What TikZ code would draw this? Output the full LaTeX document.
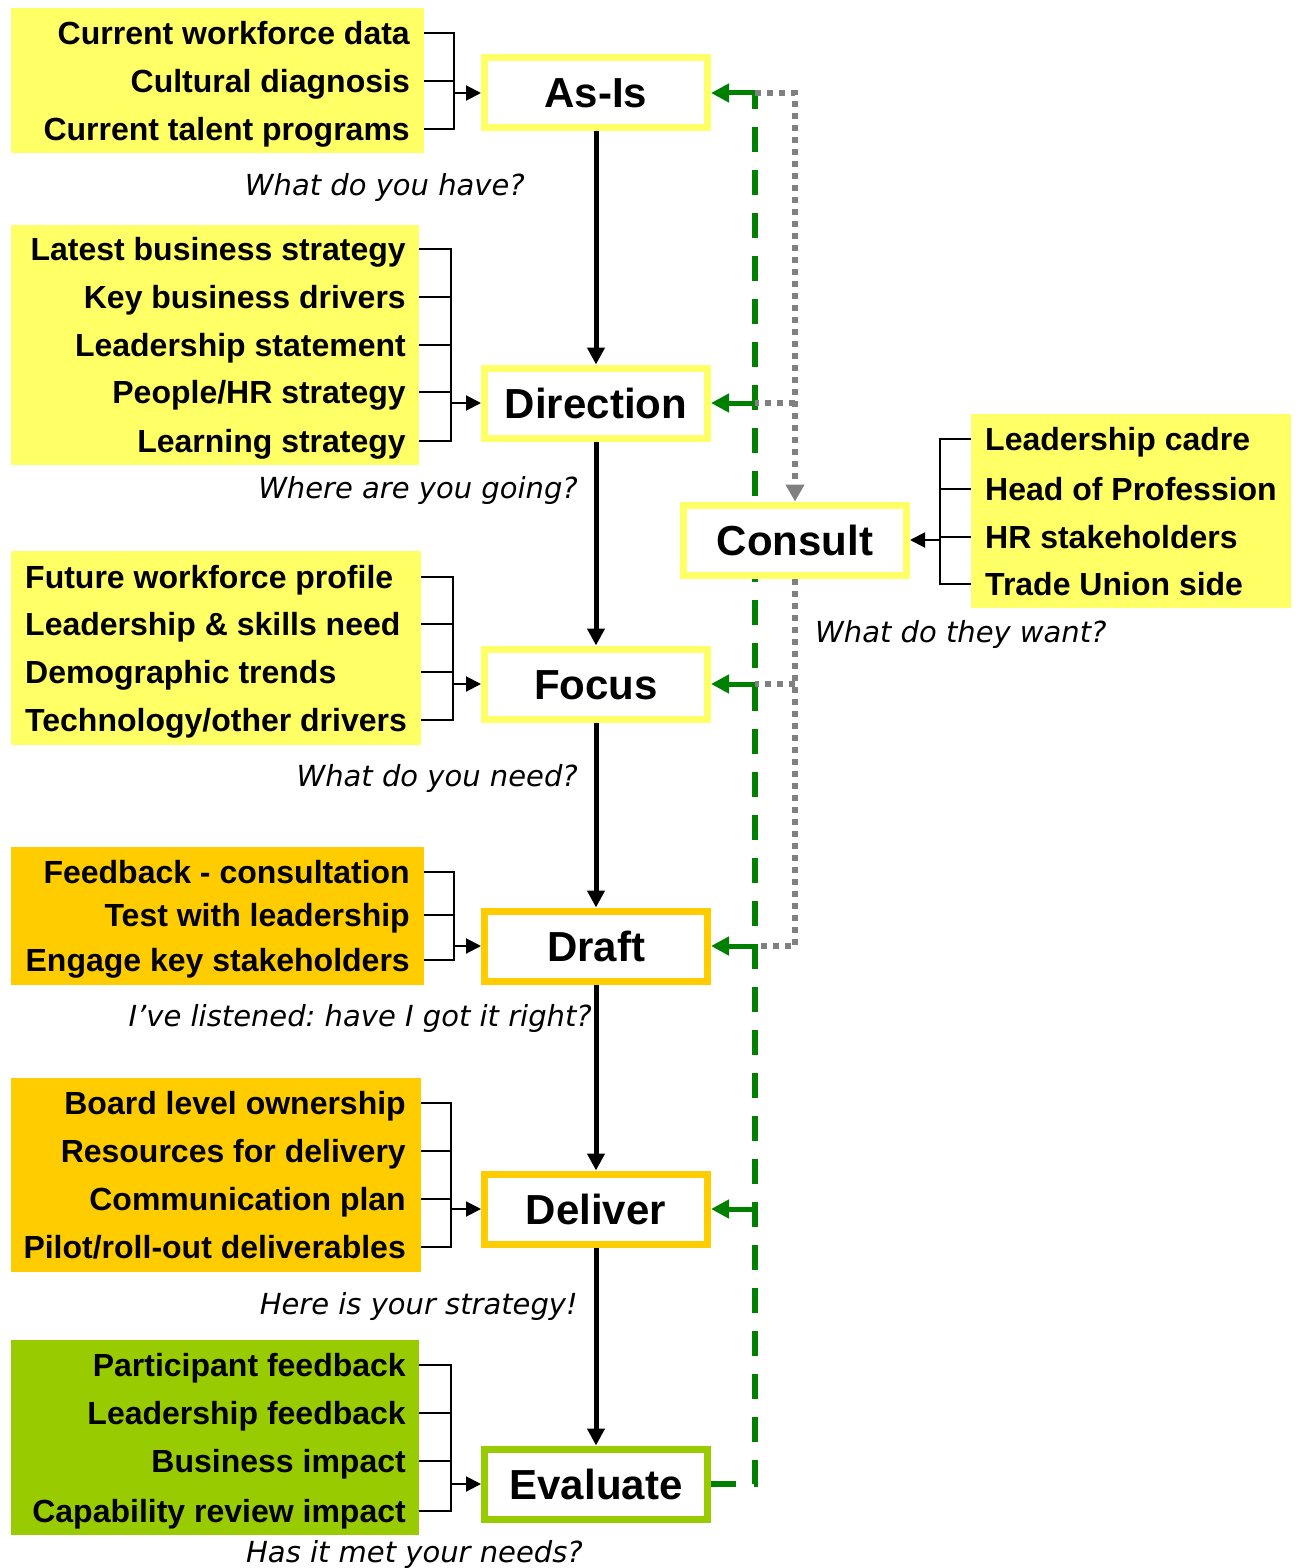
\documentclass[tikz,border=0pt]{standalone}
\usepackage{fontspec}
\setmainfont{Liberation Sans}
\newfontfamily\notefont{DejaVu Sans}
\usetikzlibrary{arrows.meta, positioning, backgrounds}

\definecolor{paleyellow}{HTML}{FFFF66}
\definecolor{gold}{HTML}{FFCC00}
\definecolor{lime}{HTML}{99CC00}
\definecolor{dkgreen}{HTML}{008000}
\definecolor{dotgrey}{HTML}{808080}

\frenchspacing
\begin{document}
\begin{tikzpicture}[x=1pt, y=-1pt]
    \tikzstyle{stage} = [rectangle, draw=paleyellow, fill=white, line width=7pt, minimum width=223pt, minimum height=70pt, inner sep=0pt, font=\fontsize{42}{50}\selectfont\bfseries, text height=30pt, text depth=0pt]
    \tikzstyle{panel} = [rectangle, anchor=north west, inner sep=0pt]
    \tikzstyle{item} = [inner sep=0pt, font=\fontsize{32}{38}\selectfont\bfseries, text height=23pt, text depth=0pt]
    \tikzstyle{question} = [inner sep=0pt, font=\notefont\fontsize{29}{35}\selectfont\itshape]
    \tikzstyle{leg} = [line width=2pt]
    \tikzstyle{feed} = [line width=2pt, -{Triangle[length=15pt, width=15pt]}]
    \tikzstyle{flow} = [line width=5pt, -{Triangle[length=17pt, width=17pt]}]
    \tikzstyle{loopback} = [draw=dkgreen, line width=6pt, dash pattern=on 25pt off 18pt]
    \tikzstyle{backarrow} = [draw=dkgreen, line width=5pt, -{Triangle[length=18pt, width=18pt, fill=dkgreen]}]
    \tikzstyle{greydot} = [draw=dotgrey, line width=6pt, dash pattern=on 6pt off 6pt]

    \useasboundingbox (0,0) rectangle (1299,1568);

    % stages
    \node (asis) [stage] at (596,93) {As-Is};
    \node (direction) [stage] at (596,403) {Direction};
    \node (focus) [stage] at (596,684) {Focus};
    \node (draft) [stage, draw=gold] at (596,946) {Draft};
    \node (deliver) [stage, draw=gold] at (596,1209) {Deliver};
    \node (evaluate) [stage, draw=lime] at (596,1484) {Evaluate};
    \node (consult) [stage] at (795,540) {Consult};

    % input panels
    \node (pAsIs) [panel, fill=paleyellow, minimum width=413pt, minimum height=145pt] at (11,8) {};
    \node (pDirection) [panel, fill=paleyellow, minimum width=408pt, minimum height=240pt] at (11,225) {};
    \node (pFocus) [panel, fill=paleyellow, minimum width=410pt, minimum height=194pt] at (11,551) {};
    \node (pDraft) [panel, fill=gold, minimum width=413pt, minimum height=138pt] at (11,847) {};
    \node (pDeliver) [panel, fill=gold, minimum width=410pt, minimum height=194pt] at (11,1078) {};
    \node (pEvaluate) [panel, fill=lime, minimum width=408pt, minimum height=195pt] at (11,1340) {};
    \node (pConsult) [panel, fill=paleyellow, minimum width=320pt, minimum height=194pt] at (971,414) {};

    \node (cwd) [item, anchor=east] at (410,33) {Current workforce data};
    \node (cdiag) [item, anchor=east] at (410,81) {Cultural diagnosis};
    \node (ctal) [item, anchor=east] at (410,129) {Current talent programs};

    \node (lbs) [item, anchor=east] at (406,249) {Latest business strategy};
    \node (kbd) [item, anchor=east] at (406,297) {Key business drivers};
    \node (lst) [item, anchor=east] at (406,345) {Leadership statement};
    \node (phr) [item, anchor=east] at (406,392) {People/HR strategy};
    \node (lrn) [item, anchor=east] at (406,441) {Learning strategy};

    \node (fwp) [item, anchor=west] at (25,577) {Future workforce profile};
    \node (lsn) [item, anchor=west] at (25,624) {Leadership \& skills need};
    \node (dem) [item, anchor=west] at (25,672) {Demographic trends};
    \node (tec) [item, anchor=west] at (25,720) {Technology/other drivers};

    \node (fbk) [item, anchor=east] at (410,872) {Feedback - consultation};
    \node (twl) [item, anchor=east] at (410,915) {Test with leadership};
    \node (eks) [item, anchor=east] at (410,960) {Engage key stakeholders};

    \node (blo) [item, anchor=east] at (406,1103) {Board level ownership};
    \node (rfd) [item, anchor=east] at (406,1151) {Resources for delivery};
    \node (cpl) [item, anchor=east] at (406,1199) {Communication plan};
    \node (pro) [item, anchor=east] at (406,1247) {Pilot/roll-out deliverables};

    \node (pfb) [item, anchor=east] at (406,1365) {Participant feedback};
    \node (lfb) [item, anchor=east] at (406,1413) {Leadership feedback};
    \node (bim) [item, anchor=east] at (406,1461) {Business impact};
    \node (cri) [item, anchor=east] at (406,1511) {Capability review impact};

    \node (ldc) [item, anchor=west] at (985,439) {Leadership cadre};
    \node (hop) [item, anchor=west] at (985,489) {Head of Profession};
    \node (hrs) [item, anchor=west] at (985,537) {HR stakeholders};
    \node (tus) [item, anchor=west] at (985,584) {Trade Union side};

    % questions
    \node (qAsIs) [question, anchor=base east] at (525,195) {What do you have?};
    \node (qDirection) [question, anchor=base east] at (578,498) {Where are you going?};
    \node (qConsult) [question, anchor=base west] at (815,642) {What do they want?};
    \node (qFocus) [question, anchor=base east] at (578,786) {What do you need?};
    \node (qDraft) [question, anchor=base east] at (592,1026) {I’ve listened: have I got it right?};
    \node (qDeliver) [question, anchor=base east] at (578,1314) {Here is your strategy!};
    \node (qEvaluate) [question, anchor=base east] at (583,1562) {Has it met your needs?};

    % brackets into the stages
    \coordinate (jAsIs) at (454,93);
    \coordinate (jDirection) at (451,403);
    \coordinate (jFocus) at (453,684);
    \coordinate (jDraft) at (454,946);
    \coordinate (jDeliver) at (451,1209);
    \coordinate (jEvaluate) at (451,1484);
    \coordinate (jConsult) at (940,540);

    \foreach \n in {cwd,cdiag,ctal} \draw[leg] (\n.east -| pAsIs.east) -| (jAsIs);
    \foreach \n in {lbs,kbd,lst,phr,lrn} \draw[leg] (\n.east -| pDirection.east) -| (jDirection);
    \foreach \n in {fwp,lsn,dem,tec} \draw[leg] (\n.west -| pFocus.east) -| (jFocus);
    \foreach \n in {fbk,twl,eks} \draw[leg] (\n.east -| pDraft.east) -| (jDraft);
    \foreach \n in {blo,rfd,cpl,pro} \draw[leg] (\n.east -| pDeliver.east) -| (jDeliver);
    \foreach \n in {pfb,lfb,bim,cri} \draw[leg] (\n.east -| pEvaluate.east) -| (jEvaluate);
    \foreach \n in {ldc,hop,hrs,tus} \draw[leg] (\n.west -| pConsult.west) -| (jConsult);

    \draw[feed] (jAsIs) -- (asis);
    \draw[feed] (jDirection) -- (direction);
    \draw[feed] (jFocus) -- (focus);
    \draw[feed] (jDraft) -- (draft);
    \draw[feed] (jDeliver) -- (deliver);
    \draw[feed] (jEvaluate) -- (evaluate);
    \draw[feed] (jConsult) -- (consult);

    % main flow
    \draw[flow] (asis) -- (direction);
    \draw[flow] (direction) -- (focus);
    \draw[flow] (focus) -- (draft);
    \draw[flow] (draft) -- (deliver);
    \draw[flow] (deliver) -- (evaluate);

    % feedback loop and consultation
    \coordinate (gTop) at (755,93);
    \coordinate (gDirection) at (gTop |- direction.east);
    \coordinate (gFocus) at (gTop |- focus.east);
    \coordinate (gDraft) at (gTop |- draft.east);
    \coordinate (gDeliver) at (gTop |- deliver.east);
    \coordinate (sDirection) at (consult.north |- direction.east);
    \coordinate (sFocus) at (consult.north |- focus.east);

    \begin{scope}[on background layer]
        \draw[loopback] (evaluate.east) -| (gTop);
        \draw[greydot, -{Triangle[length=17pt, width=18pt, fill=dotgrey]}] (gTop) -| (consult.north);
        \draw[greydot] (consult.south) |- (gDraft);
        \draw[greydot] (sDirection) -- (gDirection);
        \draw[greydot] (sFocus) -- (gFocus);
    \end{scope}

    \draw[backarrow] (gTop) -- (asis);
    \draw[backarrow] (gDirection) -- (direction);
    \draw[backarrow] (gFocus) -- (focus);
    \draw[backarrow] (gDraft) -- (draft);
    \draw[backarrow] (gDeliver) -- (deliver);
\end{tikzpicture}
\end{document}
